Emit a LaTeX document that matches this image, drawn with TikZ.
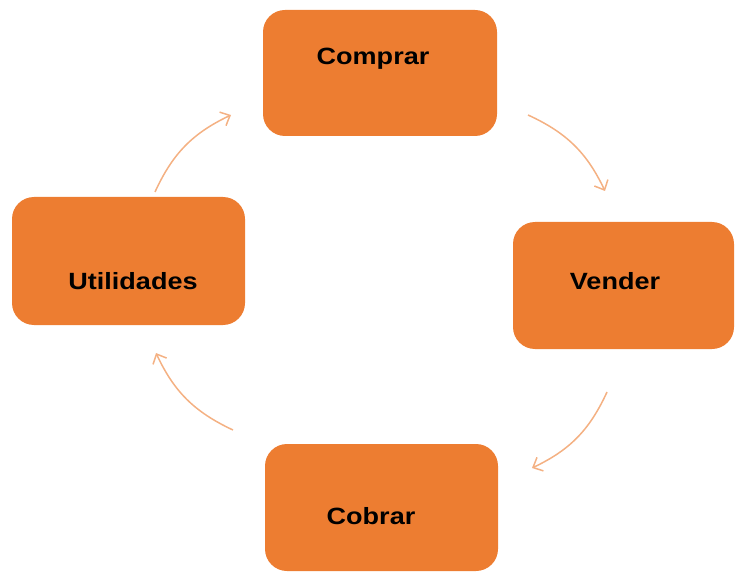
\documentclass[tikz,border=0pt]{standalone}
\usepackage{fontspec}
\setmainfont{Liberation Sans}[FakeStretch=1.15]
\usetikzlibrary{arrows.meta}
\definecolor{naranja}{HTML}{ED7D31}
\definecolor{flecha}{HTML}{F4B183}
\begin{document}
\begin{tikzpicture}[x=1pt,y=-1pt,
    caja/.style={fill=naranja,draw=none,rounded corners=22pt,inner sep=0pt},
    texto/.style={font=\fontsize{23.5}{28}\selectfont\bfseries,inner sep=0pt},
    ciclo/.style={draw=flecha,line width=1.5pt,-{Straight Barb[length=8pt,width=15pt]},bend left=20}]
    \useasboundingbox (0,0) rectangle (736,572);
    \node[caja,minimum width=234pt,minimum height=126pt] (comprar) at (380,73) {};
    \node[caja,minimum width=221pt,minimum height=127pt] (vender) at (623.5,285.5) {};
    \node[caja,minimum width=233pt,minimum height=127pt] (cobrar) at (381.5,507.5) {};
    \node[caja,minimum width=233pt,minimum height=128pt] (utilidades) at (128.5,261) {};
    \node[texto] (tcomprar) at (373,59) {Comprar};
    \node[texto] (tvender) at (615,281) {Vender};
    \node[texto] (tcobrar) at (371,516) {Cobrar};
    \node[texto] (tutilidades) at (133,281) {Utilidades};
    % extremos de las flechas
    \coordinate (u1) at (155,192);
    \coordinate (c1) at (231,115);
    \coordinate (c2) at (528,115);
    \coordinate (v1) at (605,191);
    \coordinate (v2) at (607,392);
    \coordinate (b1) at (532,468);
    \coordinate (b2) at (233,430);
    \coordinate (u2) at (156,353);
    \draw[ciclo] (u1) to (c1);
    \draw[ciclo] (c2) to (v1);
    \draw[ciclo] (v2) to (b1);
    \draw[ciclo] (b2) to (u2);
\end{tikzpicture}
\end{document}
